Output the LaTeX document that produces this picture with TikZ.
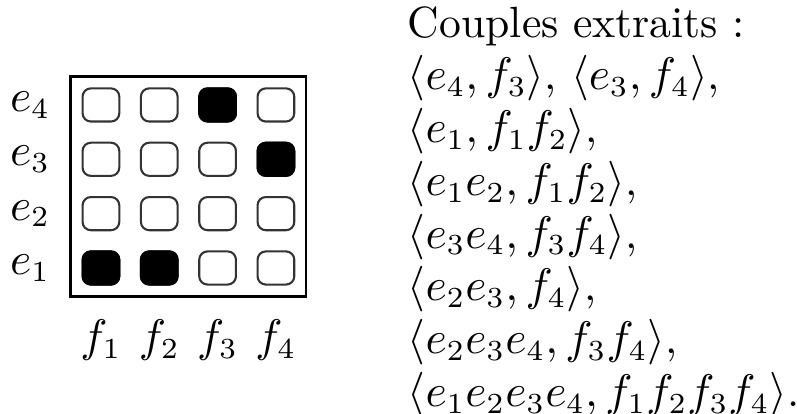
\documentclass[tikz,border=0pt]{standalone}
\usepackage{amsmath}
\usepackage{tikz}
\usetikzlibrary{positioning, fit}

\begin{document}
\begin{tikzpicture}[
  cell/.style={draw=black!80, line width=0.5pt, fill=white, minimum width=0.31cm, minimum height=0.28cm, inner sep=0, rounded corners=2pt},
  hit/.style={cell, draw=black, fill=black},
  frame/.style={draw=black, line width=0.7pt, inner sep=0.09cm},
  lbl/.style={font=\fontsize{10.5}{12.6}\selectfont, inner sep=0},
  txt/.style={font=\fontsize{10.5}{12.6}\selectfont, inner sep=0, anchor=base west},
]
  \useasboundingbox (0,0) rectangle (6.727,3.494);

  % --- cells: 4 cols (f) x 4 rows (e) ---
  \foreach \i in {1,...,4}{
    \foreach \j in {1,...,4}{
      \node[cell] (c\i\j) at ({0.3597+0.4923*\i},{0.7733+0.4587*\j}) {};
    }
  }
  \node[hit] at (c11) {};
  \node[hit] at (c21) {};
  \node[hit] at (c34) {};
  \node[hit] at (c43) {};

  % --- frame around the matrix ---
  \node[frame, fit=(c11)(c44)] (box) {};

  % --- row and column labels ---
  \foreach \j in {1,...,4}{
    \node[lbl] (e\j) at (0.253,{0.7733+0.4587*\j}) {$e_{\j}$};
  }
  \foreach \i in {1,...,4}{
    \node[lbl] (f\i) at ({0.3597+0.4923*\i},0.625) {$f_{\i}$};
  }

  % --- extracted couples ---
  \node[txt] (l1) at (3.435,3.18) {Couples extraits :};
  \node[txt] (l2) at ([yshift=-0.445cm]l1.base west) {$\langle e_4, f_3\rangle$, $\langle e_3, f_4\rangle$,};
  \node[txt] (l3) at ([yshift=-0.445cm]l2.base west) {$\langle e_1, f_1f_2\rangle$,};
  \node[txt] (l4) at ([yshift=-0.445cm]l3.base west) {$\langle e_1e_2, f_1f_2\rangle$,};
  \node[txt] (l5) at ([yshift=-0.445cm]l4.base west) {$\langle e_3e_4, f_3f_4\rangle$,};
  \node[txt] (l6) at ([yshift=-0.445cm]l5.base west) {$\langle e_2e_3, f_4\rangle$,};
  \node[txt] (l7) at ([yshift=-0.445cm]l6.base west) {$\langle e_2e_3e_4, f_3f_4\rangle$,};
  \node[txt] (l8) at ([yshift=-0.445cm]l7.base west) {$\langle e_1e_2e_3e_4, f_1f_2f_3f_4\rangle$.};
\end{tikzpicture}
\end{document}
